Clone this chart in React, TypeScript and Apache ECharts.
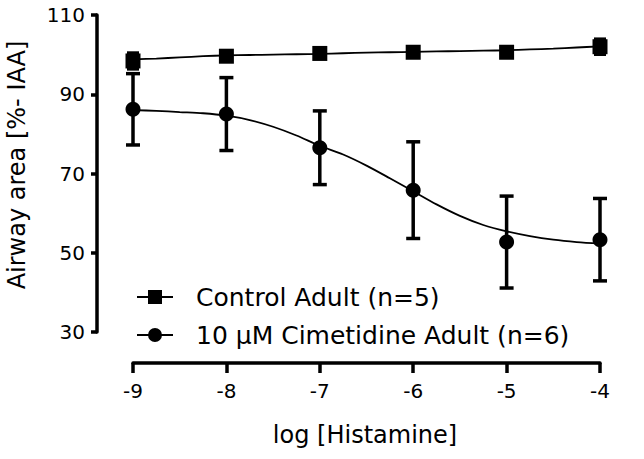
import React, { useEffect, useRef } from "react";
import * as echarts from "echarts";

const doses = [-9, -8, -7, -6, -5, -4];
const controlMean = [98.4, 99.6, 100.3, 100.6, 100.6, 102.0];
const controlSem = [2.0, 0.8, 0.6, 0.5, 0.6, 1.9];
const cimetidineMean = [86.2, 85.0, 76.5, 65.8, 52.7, 53.3];
const cimetidineSem = [9.0, 9.2, 9.3, 12.2, 11.6, 10.4];

const fitDoses = [-9, -8.75, -8.5, -8.25, -8, -7.75, -7.5, -7.25, -7, -6.75, -6.5, -6.25, -6, -5.75, -5.5, -5.25, -5, -4.75, -4.5, -4.25, -4];
const controlFit = [98.8, 99.0, 99.3, 99.6, 99.8, 99.9, 100.0, 100.1, 100.2, 100.35, 100.5, 100.6, 100.7, 100.8, 100.9, 101.0, 101.1, 101.3, 101.5, 101.8, 102.1];
const cimetidineFit = [86.0, 85.8, 85.5, 85.2, 84.6, 83.5, 81.8, 79.6, 77.0, 74.8, 72.0, 68.8, 65.5, 62.2, 59.3, 57.0, 55.4, 54.2, 53.3, 52.7, 52.3];

const yTicks = { min: 30, max: 110, interval: 20 };
const xTicks = { min: -9, max: -4, interval: 1 };

const controlName = "Control Adult (n=5)";
const cimetidineName = "10 µM Cimetidine Adult (n=6)";
const xTitle = "log [Histamine]";
const yTitle = "Airway area [%- IAA]";

const FONT = "DejaVu Sans";

function errorBars(means: number[], sems: number[], cap: number) {
  return {
    type: "custom",
    silent: true,
    z: 3,
    encode: { x: 0, y: [1, 2] },
    data: doses.map((d, i) => [d, means[i] - sems[i], means[i] + sems[i]]),
    renderItem: (params: any, api: any) => {
      const x = api.value(0);
      const lo = api.coord([x, api.value(1)]);
      const hi = api.coord([x, api.value(2)]);
      const w = cap / 2;
      const st = { stroke: "#000", lineWidth: 3.5 };
      return {
        type: "group",
        children: [
          { type: "line", shape: { x1: lo[0], y1: lo[1], x2: hi[0], y2: hi[1] }, style: st },
          { type: "line", shape: { x1: lo[0] - w, y1: lo[1], x2: lo[0] + w, y2: lo[1] }, style: st },
          { type: "line", shape: { x1: hi[0] - w, y1: hi[1], x2: hi[0] + w, y2: hi[1] }, style: st },
        ],
      };
    },
  };
}

export default function App() {
  const ref = useRef<HTMLDivElement>(null);
  useEffect(() => {
    if (!ref.current) return;
    const chart = echarts.init(ref.current, null, { renderer: "svg" });
    chart.setOption({
      animation: false,
      backgroundColor: "#fff",
      textStyle: { fontFamily: FONT, color: "#000" },
      grid: { left: 133, right: 44, top: 15, bottom: 127, containLabel: false },
      xAxis: {
        type: "value",
        min: xTicks.min,
        max: xTicks.max,
        interval: xTicks.interval,
        offset: 31,
        axisLine: { show: true, lineStyle: { color: "#000", width: 3.5 } },
        axisTick: { show: true, length: 10, lineStyle: { color: "#000", width: 3.5 } },
        axisLabel: { fontSize: 20, color: "#000", fontFamily: FONT, margin: 18 },
        splitLine: { show: false },
      },
      yAxis: {
        type: "value",
        min: yTicks.min,
        max: yTicks.max,
        interval: yTicks.interval,
        offset: 36,
        axisLine: { show: true, lineStyle: { color: "#000", width: 3.5 } },
        axisTick: { show: true, length: 6, lineStyle: { color: "#000", width: 3.5 } },
        axisLabel: { fontSize: 20, color: "#000", fontFamily: FONT, margin: 12 },
        splitLine: { show: false },
      },
      legend: {
        orient: "vertical",
        left: 137,
        top: 284,
        padding: 0,
        itemWidth: 36,
        itemHeight: 14,
        itemGap: 12,
        itemStyle: { opacity: 1 },
        textStyle: { fontSize: 25, color: "#000", fontFamily: FONT, lineHeight: 26, padding: [0, 0, 0, 18] },
        data: [
          { name: controlName, icon: "path://M0 6h36v2H0z M11 0h14v14H11z" },
          { name: cimetidineName, icon: "path://M0 6h36v2H0z M11 7a7 7 0 1 1 14 0a7 7 0 1 1 -14 0z" },
        ],
      },
      graphic: [
        {
          type: "text",
          x: 365,
          y: 435,
          style: { text: xTitle, fontSize: 24, fontFamily: FONT, fill: "#000", align: "center", verticalAlign: "middle" },
        },
        {
          type: "text",
          x: 17,
          y: 165,
          rotation: Math.PI / 2,
          style: { text: yTitle, fontSize: 24, fontFamily: FONT, fill: "#000", align: "center", verticalAlign: "middle" },
        },
      ],
      series: [
        {
          type: "line",
          name: "controlFit",
          data: fitDoses.map((d, i) => [d, controlFit[i]]),
          showSymbol: false,
          smooth: 0.3,
          lineStyle: { color: "#000", width: 1.8 },
          z: 2,
          silent: true,
        },
        {
          type: "line",
          name: "cimetidineFit",
          data: fitDoses.map((d, i) => [d, cimetidineFit[i]]),
          showSymbol: false,
          smooth: 0.3,
          lineStyle: { color: "#000", width: 1.8 },
          z: 2,
          silent: true,
        },
        errorBars(controlMean, controlSem, 12),
        errorBars(cimetidineMean, cimetidineSem, 14),
        {
          type: "scatter",
          name: controlName,
          data: doses.map((d, i) => [d, controlMean[i]]),
          symbol: "rect",
          symbolSize: 15,
          itemStyle: { color: "#000", opacity: 1 },
          z: 4,
        },
        {
          type: "scatter",
          name: cimetidineName,
          data: doses.map((d, i) => [d, cimetidineMean[i]]),
          symbol: "circle",
          symbolSize: 15,
          itemStyle: { color: "#000", opacity: 1 },
          z: 4,
        },
      ],
    });
    return () => chart.dispose();
  }, []);
  return <div ref={ref} style={{ position: "fixed", left: 0, top: 0, width: 644, height: 459 }} />;
}
